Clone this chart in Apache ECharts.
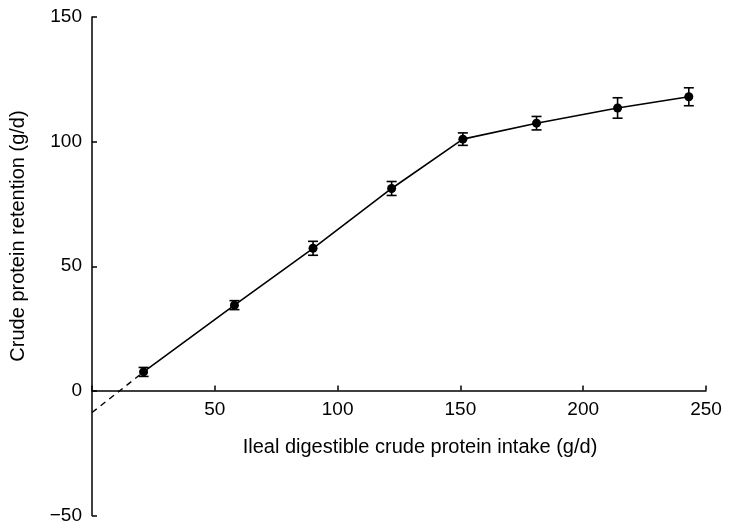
<!DOCTYPE html>
<html>
<head>
<meta charset="utf-8">
<script src="https://cdn.jsdelivr.net/npm/echarts@6/dist/echarts.min.js"></script>
<style>
html,body{margin:0;padding:0;background:#fff;}
#c{width:732px;height:525px;}
</style>
</head>
<body>
<div id="c"></div>
<script>
// Data
const xIntake = [21, 58, 90, 122, 151, 181, 214, 243];
const yRetention = [7.6, 34.4, 57.2, 81.2, 101, 107.4, 113.5, 118];
const yError = [1.8, 1.8, 2.8, 2.8, 2.5, 2.7, 4.1, 3.6];
const dashX = [0, 21];
const dashY = [-8.7, 7.6];
const xTicks = [0, 50, 100, 150, 200, 250];
const yTicks = [-50, 0, 50, 100, 150];
const xTitle = 'Ileal digestible crude protein intake (g/d)';
const yTitle = 'Crude protein retention (g/d)';

const points = xIntake.map((x, i) => [x, yRetention[i]]);
const errData = xIntake.map((x, i) => [x, yRetention[i] - yError[i], yRetention[i] + yError[i]]);
const dashData = dashX.map((x, i) => [x, dashY[i]]);

const GRID_TOP = 17, GRID_BOTTOM = 8, H = 525;
const plotH = H - GRID_TOP - GRID_BOTTOM;
const yMin = yTicks[0], yMax = yTicks[yTicks.length - 1];
// move the x axis up so that it sits on y = 0
const xAxisOffset = -plotH * (0 - yMin) / (yMax - yMin);

const chart = echarts.init(document.getElementById('c'), null, {renderer: 'canvas'});
const FONT = 'Liberation Sans, Arial, sans-serif';

chart.setOption({
  animation: false,
  backgroundColor: '#fff',
  grid: {left: 92, right: 26, top: GRID_TOP, bottom: GRID_BOTTOM, containLabel: false},
  xAxis: {
    type: 'value', min: xTicks[0], max: xTicks[xTicks.length - 1], interval: 50,
    position: 'bottom', offset: xAxisOffset,
    axisLine: {onZero: false, lineStyle: {color: '#000', width: 1.5}},
    axisTick: {inside: true, length: 5, lineStyle: {color: '#000', width: 1.5}},
    axisLabel: {color: '#000', fontSize: 19, fontFamily: FONT, margin: 10,
      formatter: v => (v === 0 ? '' : String(v))},
    splitLine: {show: false}
  },
  yAxis: {
    type: 'value', min: yMin, max: yMax, interval: 50,
    axisLine: {onZero: false, lineStyle: {color: '#000', width: 1.5}},
    axisTick: {inside: true, length: 5, lineStyle: {color: '#000', width: 1.5}},
    axisLabel: {color: '#000', fontSize: 19, fontFamily: FONT, margin: 10,
      formatter: v => (v < 0 ? '\u2212' + Math.abs(v) : String(v))},
    splitLine: {show: false}
  },
  graphic: [
    {type: 'text', style: {text: yTitle, fill: '#000', font: '20px ' + FONT, textAlign: 'center', textVerticalAlign: 'middle'},
      x: 18, y: 236, rotation: Math.PI / 2},
    {type: 'text', style: {text: xTitle, fill: '#000', font: '20px ' + FONT, textAlign: 'center', textVerticalAlign: 'middle'},
      x: 420, y: 447}
  ],
  series: [
    {type: 'line', data: dashData, symbol: 'none', silent: true,
      lineStyle: {color: '#000', width: 1.4, type: [6, 5]}},
    {type: 'line', data: points, symbol: 'circle', symbolSize: 9, silent: true,
      itemStyle: {color: '#000'}, lineStyle: {color: '#000', width: 1.6}},
    {type: 'custom', data: errData, silent: true,
      renderItem: function (params, api) {
        const x = api.value(0);
        const lo = api.coord([x, api.value(1)]);
        const hi = api.coord([x, api.value(2)]);
        const w = 5;
        const st = {stroke: '#000', lineWidth: 1.6};
        return {type: 'group', children: [
          {type: 'line', shape: {x1: lo[0], y1: lo[1], x2: hi[0], y2: hi[1]}, style: st},
          {type: 'line', shape: {x1: lo[0] - w, y1: lo[1], x2: lo[0] + w, y2: lo[1]}, style: st},
          {type: 'line', shape: {x1: hi[0] - w, y1: hi[1], x2: hi[0] + w, y2: hi[1]}, style: st}
        ]};
      }
    }
  ]
});
</script>
</body>
</html>
